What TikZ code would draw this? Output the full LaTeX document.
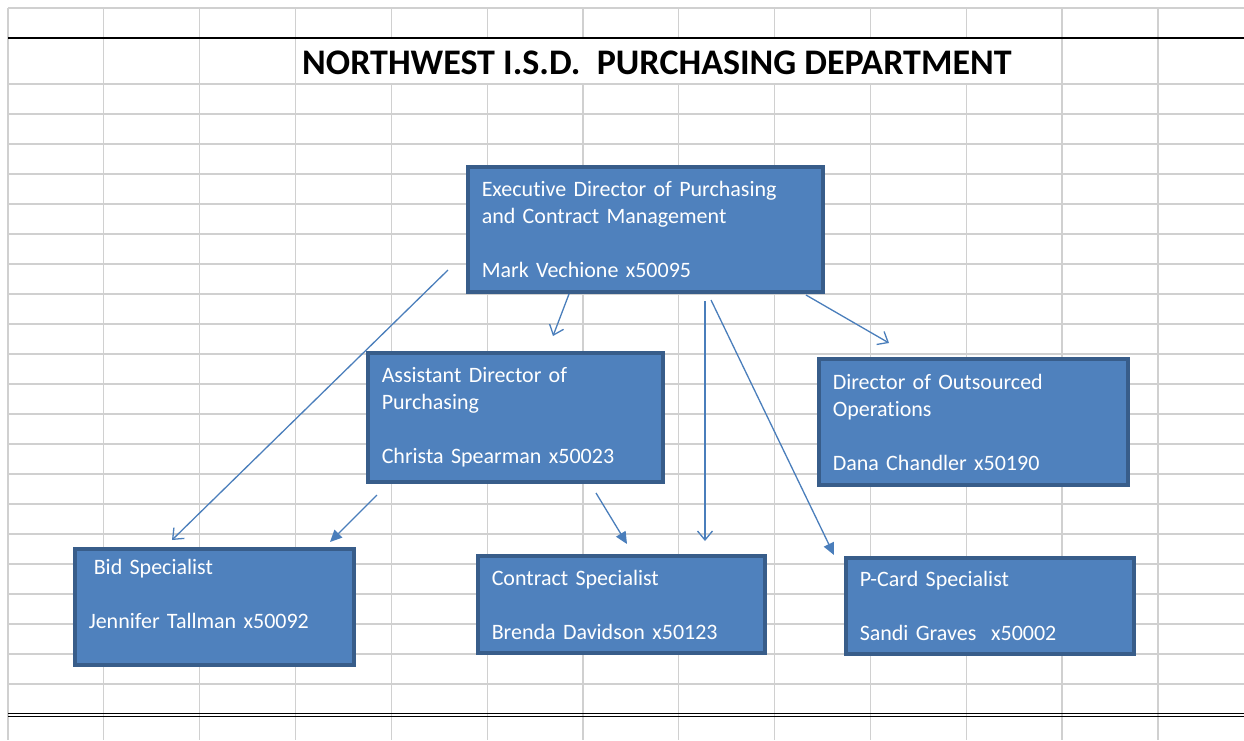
\documentclass[tikz,border=0pt]{standalone}
\usepackage{fontspec}
\setmainfont{Carlito}
\newfontfamily\boxfont[WordSpace=0.75,Ligatures=NoCommon]{Carlito}
\newfontfamily\titlefont[Ligatures=NoCommon]{Carlito}
\usetikzlibrary{arrows.meta}
\definecolor{box_fill}{RGB}{79,129,189}
\definecolor{box_line}{RGB}{56,93,138}
\definecolor{arr_blue}{RGB}{74,126,187}
\definecolor{grid_gray}{RGB}{208,208,208}
\tikzset{
  orgbox/.style = {draw=box_line, fill=box_fill, line width=3.8pt, text=white,
    align=left, inner xsep=14pt, inner ysep=0pt,
    font=\boxfont\fontsize{22}{27}\selectfont},
  gridline/.style = {draw=grid_gray, line width=1.3pt}
}

\begin{document}
\begin{tikzpicture}[x=1pt,y=-1pt,
    barbarr/.style={draw=arr_blue, line width=1.3pt, -{Straight Barb[length=9pt,width=15pt]}},
    triarr/.style={draw=arr_blue, line width=1.3pt, -{Triangle[length=12pt,width=11pt]}}]
  \useasboundingbox (0,0) rectangle (1244,740);
  % sheet grid
  \foreach \i in {0,...,3,11,12}
    \draw[gridline] ({8+95.83*\i},8) -- ({8+95.83*\i},740);
  \foreach \i in {4,...,10} {
    \draw[gridline] ({8+95.83*\i},8) -- ({8+95.83*\i},38);
    \draw[gridline] ({8+95.83*\i},84) -- ({8+95.83*\i},740);
  }
  \draw[gridline] (8,8) -- (1244,8);
  \foreach \y in {84,114,...,684}
    \draw[gridline] (8,\y) -- (1244,\y);
  \draw[black, line width=2pt] (8,38) -- (1244,38);
  \draw[black, line width=1.5pt] (8,713.3) -- (1244,713.3);
  \draw[black, line width=1.5pt] (8,716.7) -- (1244,716.7);

  \node[anchor=west, inner sep=0pt, font=\titlefont\bfseries\fontsize{36}{40}\selectfont] (title)
    at (302,63) {NORTHWEST I.S.D.\ \ PURCHASING DEPARTMENT};

  % boxes
  \node[orgbox, minimum width=355.5pt, minimum height=125.5pt, text width=327.5pt] (exec)
    at (645.5,229.5) {Executive Director of Purchasing\\ and Contract Management\\ \mbox{}\\ Mark Vechione x50095};
  \node[orgbox, minimum width=295.5pt, minimum height=129.5pt, text width=267.5pt] (asst)
    at (515.5,417.5) {Assistant Director of\\ Purchasing\\ \mbox{}\\ Christa Spearman x50023};
  \node[orgbox, minimum width=309.5pt, minimum height=126.5pt, text width=281.5pt] (outsrc)
    at (973.5,422) {Director of Outsourced\\ Operations\\ \mbox{}\\ Dana Chandler x50190};
  \node[orgbox, minimum width=279.5pt, minimum height=116.5pt, text width=251.5pt] (bid)
    at (214.5,607) {\hspace{5pt}Bid Specialist\\ \mbox{}\\ Jennifer Tallman x50092\\ \mbox{}};
  \node[orgbox, minimum width=287.5pt, minimum height=97.5pt, text width=259.5pt] (contract)
    at (621.5,604.5) {Contract Specialist\\ \mbox{}\\ Brenda Davidson x50123};
  \node[orgbox, minimum width=288.5pt, minimum height=96.5pt, text width=260.5pt] (pcard)
    at (990,606) {P-Card Specialist\\ \mbox{}\\ Sandi Graves\ \ x50002};

  % connector ends
  \coordinate (e2bid) at (448,270);   \coordinate (bidtip) at (172,540);
  \coordinate (e2asst) at (569,294);  \coordinate (assttip) at (553,336);
  \coordinate (e2con) at (705,301);   \coordinate (contip) at (705,541);
  \coordinate (e2pc) at (711,300);    \coordinate (pctip) at (834,555);
  \coordinate (e2out) at (806,295);   \coordinate (outtip) at (889,343);
  \coordinate (a2bid) at (377,495);   \coordinate (abidtip) at (330,542);
  \coordinate (a2con) at (596,493);   \coordinate (acontip) at (627,544);

  \draw[barbarr] (e2bid) -- (bidtip);
  \draw[barbarr] (e2asst) -- (assttip);
  \draw[barbarr] (e2con) -- (contip);
  \draw[triarr] (e2pc) -- (pctip);
  \draw[barbarr] (e2out) -- (outtip);
  \draw[triarr] (a2bid) -- (abidtip);
  \draw[triarr] (a2con) -- (acontip);
\end{tikzpicture}
\end{document}
